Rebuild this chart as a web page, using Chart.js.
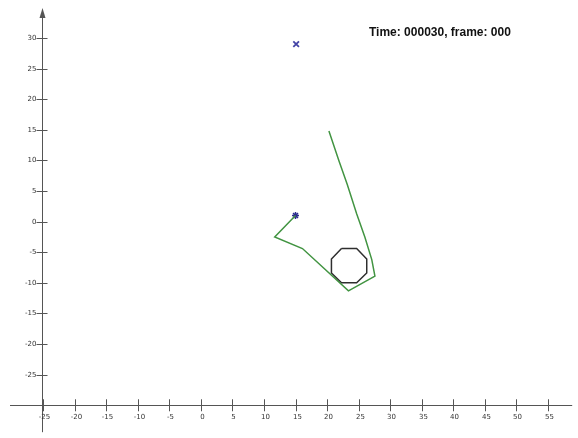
<!DOCTYPE html>
<html>
<head>
<meta charset="utf-8">
<script src="https://cdn.jsdelivr.net/npm/chart.js@4.4.1/dist/chart.umd.min.js"></script>
<style>
  html, body { margin: 0; padding: 0; background: #fff; }
  #wrap { position: relative; width: 578px; height: 438px; }
</style>
</head>
<body>
<div id="wrap"><canvas id="chart"></canvas></div>
<script>
// trajectory (green)
const pathX = [20.3, 21.9, 23.2, 24.7, 26.0, 27.1, 27.6, 23.4, 16.1, 11.7, 15.0];
const pathY = [14.8, 9.9, 6.1, 1.3, -2.5, -6.2, -8.9, -11.3, -4.4, -2.5, 1.0];

// obstacle outline (octagon)
const octX = [22.3, 24.7, 26.3, 26.3, 24.7, 22.3, 20.7, 20.7, 22.3];
const octY = [-4.4, -4.4, -6.1, -8.4, -10.0, -10.0, -8.4, -6.1, -4.4];

// markers
const targetPt = { x: 15.1, y: 29.0 };
const currentPt = { x: 15.0, y: 1.0 };

// axis ticks
const xTicks = [-25, -20, -15, -10, -5, 0, 5, 10, 15, 20, 25, 30, 35, 40, 45, 50, 55];
const yTicks = [30, 25, 20, 15, 10, 5, 0, -5, -10, -15, -20, -25];
const axisXAt = -25.3;   // where the vertical axis crosses
const axisYAt = -30;     // where the horizontal axis crosses

const statusText = "Time: 000030, frame: 000";

const toPoints = (xs, ys) => xs.map((x, i) => ({ x: x, y: ys[i] }));

// draws the crossing axes, ticks and labels
const axesPlugin = {
  id: 'axes',
  beforeDatasetsDraw(chart) {
    const { ctx, chartArea, scales } = chart;
    const x0 = scales.x.getPixelForValue(axisXAt);
    const y0 = scales.y.getPixelForValue(axisYAt);
    ctx.save();
    ctx.strokeStyle = '#555';
    ctx.lineWidth = 1;
    ctx.beginPath();
    ctx.moveTo(chartArea.left, Math.round(y0) + 0.5);
    ctx.lineTo(chartArea.right, Math.round(y0) + 0.5);
    ctx.moveTo(Math.round(x0) + 0.5, chartArea.top + 2);
    ctx.lineTo(Math.round(x0) + 0.5, chartArea.bottom);
    ctx.stroke();

    // arrow head
    ctx.fillStyle = '#555';
    ctx.beginPath();
    ctx.moveTo(Math.round(x0) + 0.5, chartArea.top);
    ctx.lineTo(Math.round(x0) - 2.5, chartArea.top + 10);
    ctx.lineTo(Math.round(x0) + 3.5, chartArea.top + 10);
    ctx.closePath();
    ctx.fill();

    ctx.font = '7px "DejaVu Sans"';
    ctx.fillStyle = '#333';
    ctx.textBaseline = 'middle';
    ctx.textAlign = 'center';
    ctx.beginPath();
    xTicks.forEach(v => {
      const px = Math.round(scales.x.getPixelForValue(v)) + 0.5;
      ctx.moveTo(px, y0 - 6);
      ctx.lineTo(px, y0 + 6);
      ctx.fillText(String(v), px + 1, y0 + 12);
    });
    ctx.textAlign = 'right';
    yTicks.forEach(v => {
      const py = Math.round(scales.y.getPixelForValue(v)) + 0.5;
      ctx.moveTo(x0 - 5, py);
      ctx.lineTo(x0 + 6, py);
      ctx.fillText(String(v), x0 - 5, py);
    });
    ctx.stroke();

    ctx.font = 'bold 12px "Liberation Sans"';
    ctx.fillStyle = '#111';
    ctx.textAlign = 'left';
    ctx.textBaseline = 'alphabetic';
    ctx.fillText(statusText, 369, 36);
    ctx.restore();
  }
};

new Chart(document.getElementById('chart'), {
  type: 'scatter',
  data: {
    datasets: [
      {
        label: 'path',
        data: toPoints(pathX, pathY),
        showLine: true,
        borderColor: '#429442',
        borderWidth: 1.5,
        pointRadius: 0,
        fill: false
      },
      {
        label: 'obstacle',
        data: toPoints(octX, octY),
        showLine: true,
        borderColor: '#2e2e2e',
        borderWidth: 1.5,
        pointRadius: 0,
        fill: false
      },
      {
        label: 'target',
        data: [targetPt],
        pointStyle: 'crossRot',
        pointRadius: 4,
        borderColor: '#4444a6',
        borderWidth: 1.8
      },
      {
        label: 'robot',
        data: [currentPt],
        pointStyle: 'star',
        pointRadius: 3.5,
        borderColor: '#2b2b8f',
        borderWidth: 1.5
      }
    ]
  },
  options: {
    responsive: true,
    maintainAspectRatio: false,
    animation: false,
    layout: {
      padding: { left: 10, top: 8, right: 0, bottom: 0 }
    },
    scales: {
      x: { type: 'linear', min: -30.3, max: 58.9, display: false },
      y: { type: 'linear', min: -34.4, max: 34.9, display: false }
    },
    plugins: {
      legend: { display: false },
      tooltip: { enabled: false }
    }
  },
  plugins: [axesPlugin]
});
</script>
</body>
</html>
